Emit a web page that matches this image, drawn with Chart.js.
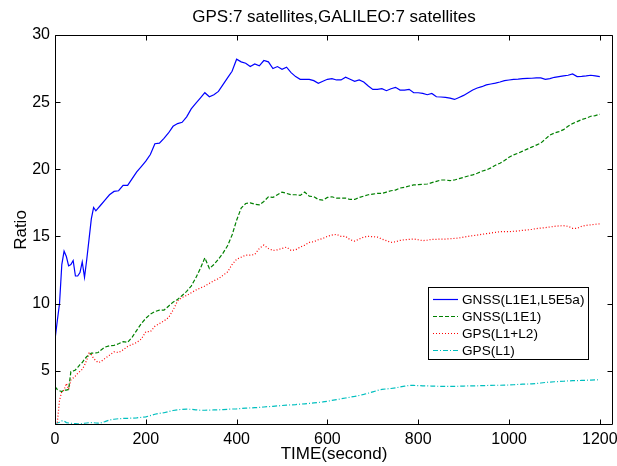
<!DOCTYPE html>
<html>
<head>
<meta charset="utf-8">
<script src="https://cdn.jsdelivr.net/npm/chart.js@4/dist/chart.umd.min.js"></script>
<style>
html,body{margin:0;padding:0;background:#fff;}
#wrap{width:617px;height:466px;position:relative;}
</style>
</head>
<body>
<div id="wrap"><canvas id="c" width="617" height="466"></canvas></div>
<script>
// ---- data ----
const chartTitle = 'GPS:7 satellites,GALILEO:7 satellites';
const xLabel = 'TIME(second)';
const yLabel = 'Ratio';
const xTicks = [0, 200, 400, 600, 800, 1000, 1200];
const yTicks = [5, 10, 15, 20, 25, 30];
const seriesNames = ['GNSS(L1E1,L5E5a)', 'GNSS(L1E1)', 'GPS(L1+L2)', 'GPS(L1)'];

const times = [0,5,10,15,20,25,30,35,40,45,50,55,60,65,70,75,80,85,90,95,100,
  110,120,130,140,150,160,170,180,190,200,
  210,220,230,240,250,260,270,280,290,300,
  310,320,330,340,350,360,370,380,390,400,
  410,420,430,440,450,460,470,480,490,500,
  510,520,530,540,550,560,570,580,590,600,
  610,620,630,640,650,660,670,680,690,700,
  710,720,730,740,750,760,770,780,790,800,
  810,820,830,840,850,860,870,880,890,900,
  910,920,930,940,950,960,970,980,990,1000,
  1010,1020,1030,1040,1050,1060,1070,1080,1090,1100,
  1110,1120,1130,1140,1150,1160,1170,1180,1190,1200];

const gnssDual = [7.3,8.7,10.0,12.9,13.9,13.5,12.8,12.9,13.2,12.05,12.05,12.3,13.1,11.95,13.3,14.8,16.3,17.15,16.9,17.1,17.3,
  17.7,18.1,18.35,18.4,18.8,18.8,19.3,19.8,20.2,20.6,
  21.1,21.9,21.95,22.3,22.7,23.2,23.4,23.5,23.9,24.5,
  24.9,25.3,25.7,25.4,25.55,25.8,26.3,26.8,27.3,28.2,
  28.0,27.9,27.65,27.85,27.7,28.1,28.0,27.5,27.65,27.45,
  27.6,27.2,26.9,26.7,26.7,26.7,26.6,26.4,26.55,26.7,
  26.75,26.65,26.65,26.85,26.7,26.55,26.65,26.5,26.2,25.95,
  25.95,26.0,25.85,26.0,26.1,25.9,25.9,25.95,25.7,25.7,
  25.65,25.55,25.65,25.4,25.38,25.36,25.3,25.2,25.35,25.5,
  25.7,25.9,26.05,26.15,26.28,26.35,26.42,26.5,26.6,26.65,
  26.7,26.72,26.75,26.77,26.78,26.8,26.8,26.7,26.75,26.85,
  26.9,26.95,27.0,27.1,26.9,26.92,26.95,27.0,26.95,26.9];

const gnssSingle = [3.8,3.6,3.5,3.44,3.55,3.55,3.6,4.93,4.97,5.05,5.25,5.45,5.6,5.85,6.05,6.15,6.3,6.3,6.32,6.35,6.5,
  6.75,6.85,6.88,7.0,7.16,7.1,7.5,8.0,8.5,8.9,
  9.2,9.4,9.5,9.5,9.8,10.1,10.3,10.6,10.9,11.3,
  11.9,12.6,13.4,12.6,12.9,13.3,13.75,14.3,15.1,16.2,
  17.1,17.45,17.5,17.4,17.35,17.6,17.95,17.9,18.1,18.3,
  18.2,18.1,18.1,18.05,18.3,18.0,17.95,17.75,17.7,17.9,
  17.95,17.85,17.85,17.85,17.75,17.75,17.9,18.0,18.1,18.15,
  18.2,18.2,18.3,18.4,18.45,18.6,18.65,18.75,18.83,18.85,
  18.88,18.9,19.0,19.1,19.2,19.2,19.15,19.2,19.3,19.4,
  19.5,19.58,19.7,19.85,19.95,20.1,20.3,20.45,20.65,20.9,
  21.07,21.2,21.35,21.5,21.65,21.8,21.95,22.25,22.55,22.7,
  22.8,22.95,23.2,23.4,23.55,23.7,23.8,23.95,24.0,24.1];

const gpsDual = [1.0,1.1,2.8,3.45,3.55,4.05,3.6,4.3,4.45,4.6,4.8,4.95,5.1,5.4,5.8,6.3,6.2,5.9,5.75,5.6,5.65,
  5.9,6.15,6.4,6.35,6.55,6.8,6.95,7.1,7.35,7.9,
  7.9,8.3,8.5,8.7,8.95,9.5,10.2,10.45,10.6,10.8,
  11.0,11.15,11.3,11.5,11.7,11.85,12.1,12.35,12.9,13.3,
  13.45,13.6,13.6,13.65,14.1,14.35,14.1,13.95,14.0,14.1,
  14.2,13.95,14.0,14.2,14.35,14.55,14.6,14.75,14.85,15.0,
  15.1,15.15,15.0,15.0,14.75,14.65,14.8,14.95,15.0,14.98,
  14.95,14.8,14.68,14.55,14.6,14.7,14.75,14.78,14.8,14.75,
  14.68,14.72,14.78,14.78,14.8,14.8,14.82,14.85,14.88,14.95,
  15.0,15.05,15.1,15.15,15.2,15.25,15.3,15.35,15.35,15.35,
  15.38,15.4,15.45,15.48,15.52,15.58,15.62,15.65,15.7,15.75,
  15.78,15.8,15.75,15.6,15.6,15.75,15.82,15.86,15.9,15.93];

const gpsSingle = [1.08,1.1,1.15,1.25,1.25,1.13,1.1,1.08,1.06,1.05,1.03,1.03,1.05,1.08,1.1,1.12,1.13,1.12,1.1,1.09,1.1,
  1.2,1.32,1.38,1.42,1.44,1.45,1.46,1.48,1.52,1.56,
  1.65,1.75,1.82,1.86,1.95,2.03,2.08,2.12,2.13,2.12,
  2.08,2.05,2.05,2.06,2.07,2.08,2.1,2.12,2.14,2.15,
  2.18,2.2,2.22,2.24,2.26,2.29,2.32,2.34,2.37,2.4,
  2.43,2.45,2.47,2.5,2.53,2.56,2.6,2.63,2.67,2.72,
  2.78,2.84,2.9,2.96,3.02,3.08,3.15,3.23,3.32,3.42,
  3.52,3.6,3.64,3.67,3.72,3.78,3.84,3.9,3.9,3.88,
  3.87,3.86,3.85,3.84,3.83,3.82,3.82,3.83,3.84,3.85,
  3.86,3.86,3.87,3.88,3.89,3.9,3.91,3.91,3.92,3.93,
  3.95,3.97,3.99,4.0,4.01,4.04,4.08,4.12,4.15,4.17,
  4.19,4.21,4.23,4.25,4.26,4.27,4.28,4.3,4.31,4.33];

// ---- chart ----
const FONT = "'Liberation Sans', Arial, Helvetica, sans-serif";
const toPts = ys => times.map((t, i) => ({x: t, y: ys[i]}));

const styles = [
  {color: '#0000ff', dash: [], width: 1.2},
  {color: '#008000', dash: [4, 2], width: 1.2},
  {color: '#ff0000', dash: [1, 2], width: 1.2},
  {color: '#00bfbf', dash: [5, 2, 1, 2], width: 1.2}
];
const seriesValues = [gnssDual, gnssSingle, gpsDual, gpsSingle];

const datasets = seriesValues.map((vals, i) => ({
  label: seriesNames[i],
  data: toPts(vals),
  borderColor: styles[i].color,
  borderDash: styles[i].dash,
  borderWidth: styles[i].width,
  pointRadius: 0,
  tension: 0,
  fill: false
}));

const frame = {
  id: 'frame',
  afterDraw(chart) {
    const {ctx, chartArea: a, scales: {x, y}} = chart;
    ctx.save();
    // title centred over the plot area
    ctx.fillStyle = '#000';
    ctx.font = '17px ' + FONT;
    ctx.textAlign = 'center';
    ctx.textBaseline = 'middle';
    ctx.fillText(chartTitle, (a.left + a.right) / 2, 17.2);

    ctx.strokeStyle = '#000';
    ctx.lineWidth = 1;
    const L = Math.round(a.left) + 0.5, R = Math.round(a.right) - 0.5;
    const T = Math.round(a.top) + 0.5, B = Math.round(a.bottom) - 0.5;
    ctx.beginPath();
    ctx.rect(L, T, R - L, B - T);
    const tl = 5;
    xTicks.forEach(v => {
      const px = Math.round(x.getPixelForValue(v)) + 0.5;
      ctx.moveTo(px, B); ctx.lineTo(px, B - tl);
      ctx.moveTo(px, T); ctx.lineTo(px, T + tl);
    });
    yTicks.forEach(v => {
      const py = Math.round(y.getPixelForValue(v)) + 0.5;
      ctx.moveTo(L, py); ctx.lineTo(L + tl, py);
      ctx.moveTo(R, py); ctx.lineTo(R - tl, py);
    });
    ctx.stroke();

    // legend box
    const bx = 428.5, by = 287.5, bw = 160, bh = 72;
    ctx.fillStyle = '#fff';
    ctx.fillRect(bx, by, bw, bh);
    ctx.strokeRect(bx, by, bw, bh);
    ctx.font = '13.6px ' + FONT;
    ctx.textBaseline = 'middle';
    ctx.textAlign = 'left';
    chart.data.datasets.forEach((ds, i) => {
      const ry = Math.round(298.5 + i * 17.2) + 0.5;
      ctx.beginPath();
      ctx.strokeStyle = ds.borderColor;
      ctx.lineWidth = ds.borderWidth;
      ctx.setLineDash(ds.borderDash);
      ctx.moveTo(433, ry); ctx.lineTo(458, ry);
      ctx.stroke();
      ctx.setLineDash([]);
      ctx.fillStyle = '#000';
      ctx.fillText(ds.label, 462, ry + 0.5);
    });
    ctx.restore();
  }
};

new Chart(document.getElementById('c'), {
  type: 'line',
  data: {datasets},
  options: {
    responsive: false,
    animation: false,
    devicePixelRatio: 1,
    layout: {padding: {left: 0, right: 4, top: 35, bottom: 0}},
    plugins: {
      legend: {display: false},
      tooltip: {enabled: false},
      title: {display: false}
    },
    scales: {
      x: {
        type: 'linear',
        min: 0, max: 1229,
        grid: {display: false, drawTicks: false},
        border: {display: false},
        afterBuildTicks: s => { s.ticks = xTicks.map(v => ({value: v})); },
        afterFit: s => { s.height = 41; s.paddingLeft = 0; s.paddingRight = 0; },
        ticks: {color: '#000', padding: 5, maxRotation: 0, font: {family: FONT, size: 16},
                callback: v => String(v)},
        title: {display: true, text: xLabel, color: '#000', font: {family: FONT, size: 17}, padding: {top: 0, bottom: 1.8}}
      },
      y: {
        type: 'linear',
        min: 0.95, max: 30,
        grid: {display: false, drawTicks: false},
        border: {display: false},
        afterBuildTicks: s => { s.ticks = yTicks.map(v => ({value: v})); },
        afterFit: s => { s.width = 55; s.paddingTop = 0; s.paddingBottom = 0; },
        ticks: {color: '#000', padding: 5, font: {family: FONT, size: 16}, callback: v => String(v)},
        title: {display: true, text: yLabel, color: '#000', font: {family: FONT, size: 17}, padding: {top: 11.3, bottom: 0}}
      }
    }
  },
  plugins: [frame]
});
</script>
</body>
</html>
